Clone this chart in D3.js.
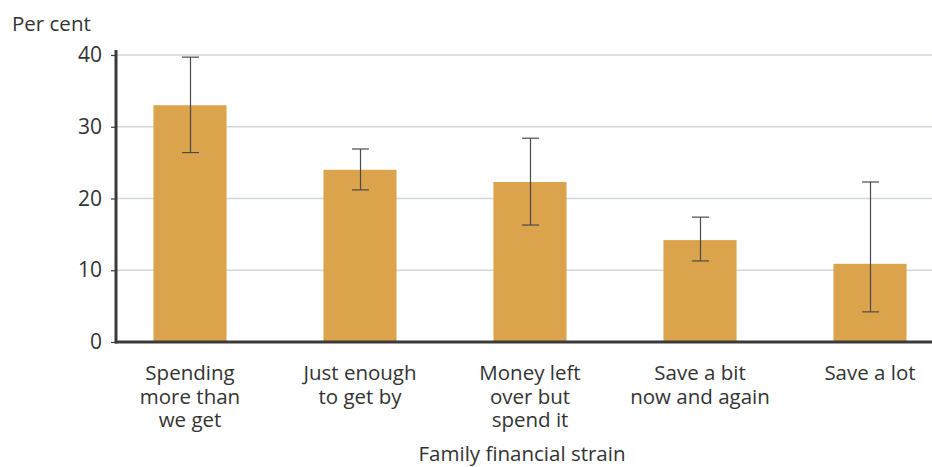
<!DOCTYPE html>
<html>
<head>
<meta charset="utf-8">
<script src="https://cdn.jsdelivr.net/npm/d3@7/dist/d3.min.js"></script>
<style>
  html, body { margin: 0; padding: 0; background: #fff; }
  svg text { font-family: "Open Sans", "Noto Sans", sans-serif; fill: #333; }
</style>
</head>
<body>
<svg id="chart" width="932" height="467"></svg>
<script>
const categories = [
  ["Spending", "more than", "we get"],
  ["Just enough", "to get by"],
  ["Money left", "over but", "spend it"],
  ["Save a bit", "now and again"],
  ["Save a lot"]
];
const values = [33.0, 24.0, 22.3, 14.2, 10.9];
const errLow = [26.4, 21.2, 16.3, 11.3, 4.2];
const errHigh = [39.7, 26.9, 28.4, 17.4, 22.3];
const yTicks = [0, 10, 20, 30, 40];
const yTitle = "Per cent";
const xTitle = "Family financial strain";

const svg = d3.select("#chart");
const idx = categories.map((d, i) => i);

const x = d3.scaleBand().domain(idx).range([105, 955]).paddingInner(0.57).paddingOuter(0.285);
const y = d3.scaleLinear().domain([0, 40]).range([342, 55]);

// gridlines
svg.append("g").selectAll("line").data(yTicks.filter(t => t > 0)).join("line")
  .attr("x1", 116).attr("x2", 932)
  .attr("y1", d => y(d)).attr("y2", d => y(d))
  .attr("stroke", "#d3d6da").attr("stroke-width", 1.5);

// bars
svg.append("g").selectAll("rect").data(idx).join("rect")
  .attr("x", i => x(i)).attr("width", x.bandwidth())
  .attr("y", i => y(values[i])).attr("height", i => y(0) - y(values[i]))
  .attr("fill", "#dba34c");

// error bars
const eg = svg.append("g").attr("stroke", "#4a4a4a").attr("stroke-width", 1.2);
idx.forEach(i => {
  const cx = Math.round(x(i) + x.bandwidth() / 2) + 0.5;
  eg.append("line").attr("x1", cx).attr("x2", cx).attr("y1", y(errLow[i])).attr("y2", y(errHigh[i]));
  eg.append("line").attr("x1", cx - 8.5).attr("x2", cx + 8.5).attr("y1", y(errLow[i])).attr("y2", y(errLow[i]));
  eg.append("line").attr("x1", cx - 8.5).attr("x2", cx + 8.5).attr("y1", y(errHigh[i])).attr("y2", y(errHigh[i]));
});

// y axis
const yAxis = d3.axisLeft(y).tickValues(yTicks).tickSize(5).tickPadding(9).tickFormat(d3.format("d"));
const ya = svg.append("g").attr("transform", "translate(116,0)").call(yAxis);
ya.select(".domain").remove();
ya.selectAll(".tick line").attr("stroke", "#3a3a3a").attr("stroke-width", 1.2);
ya.selectAll(".tick text").attr("font-size", 21).attr("fill", "#333")
  .style("font-family", '"Open Sans", "Noto Sans", sans-serif');
svg.append("line").attr("x1", 116).attr("x2", 116).attr("y1", 50).attr("y2", 343.5)
  .attr("stroke", "#3a3a3a").attr("stroke-width", 3);
// x axis line
svg.append("line").attr("x1", 115).attr("x2", 932).attr("y1", 342).attr("y2", 342)
  .attr("stroke", "#3a3a3a").attr("stroke-width", 3);

// category labels
const lg = svg.append("g");
idx.forEach(i => {
  const t = lg.append("text").attr("text-anchor", "middle")
    .attr("x", x(i) + x.bandwidth() / 2).attr("y", 380).attr("font-size", 20.5);
  categories[i].forEach((line, k) => {
    t.append("tspan").attr("x", x(i) + x.bandwidth() / 2).attr("dy", k === 0 ? 0 : 23.5).text(line);
  });
});

svg.append("text").attr("x", 12).attr("y", 31).attr("font-size", 20.5).text(yTitle);
svg.append("text").attr("x", 522).attr("y", 461).attr("text-anchor", "middle").attr("font-size", 20.5).text(xTitle);
</script>
</body>
</html>
